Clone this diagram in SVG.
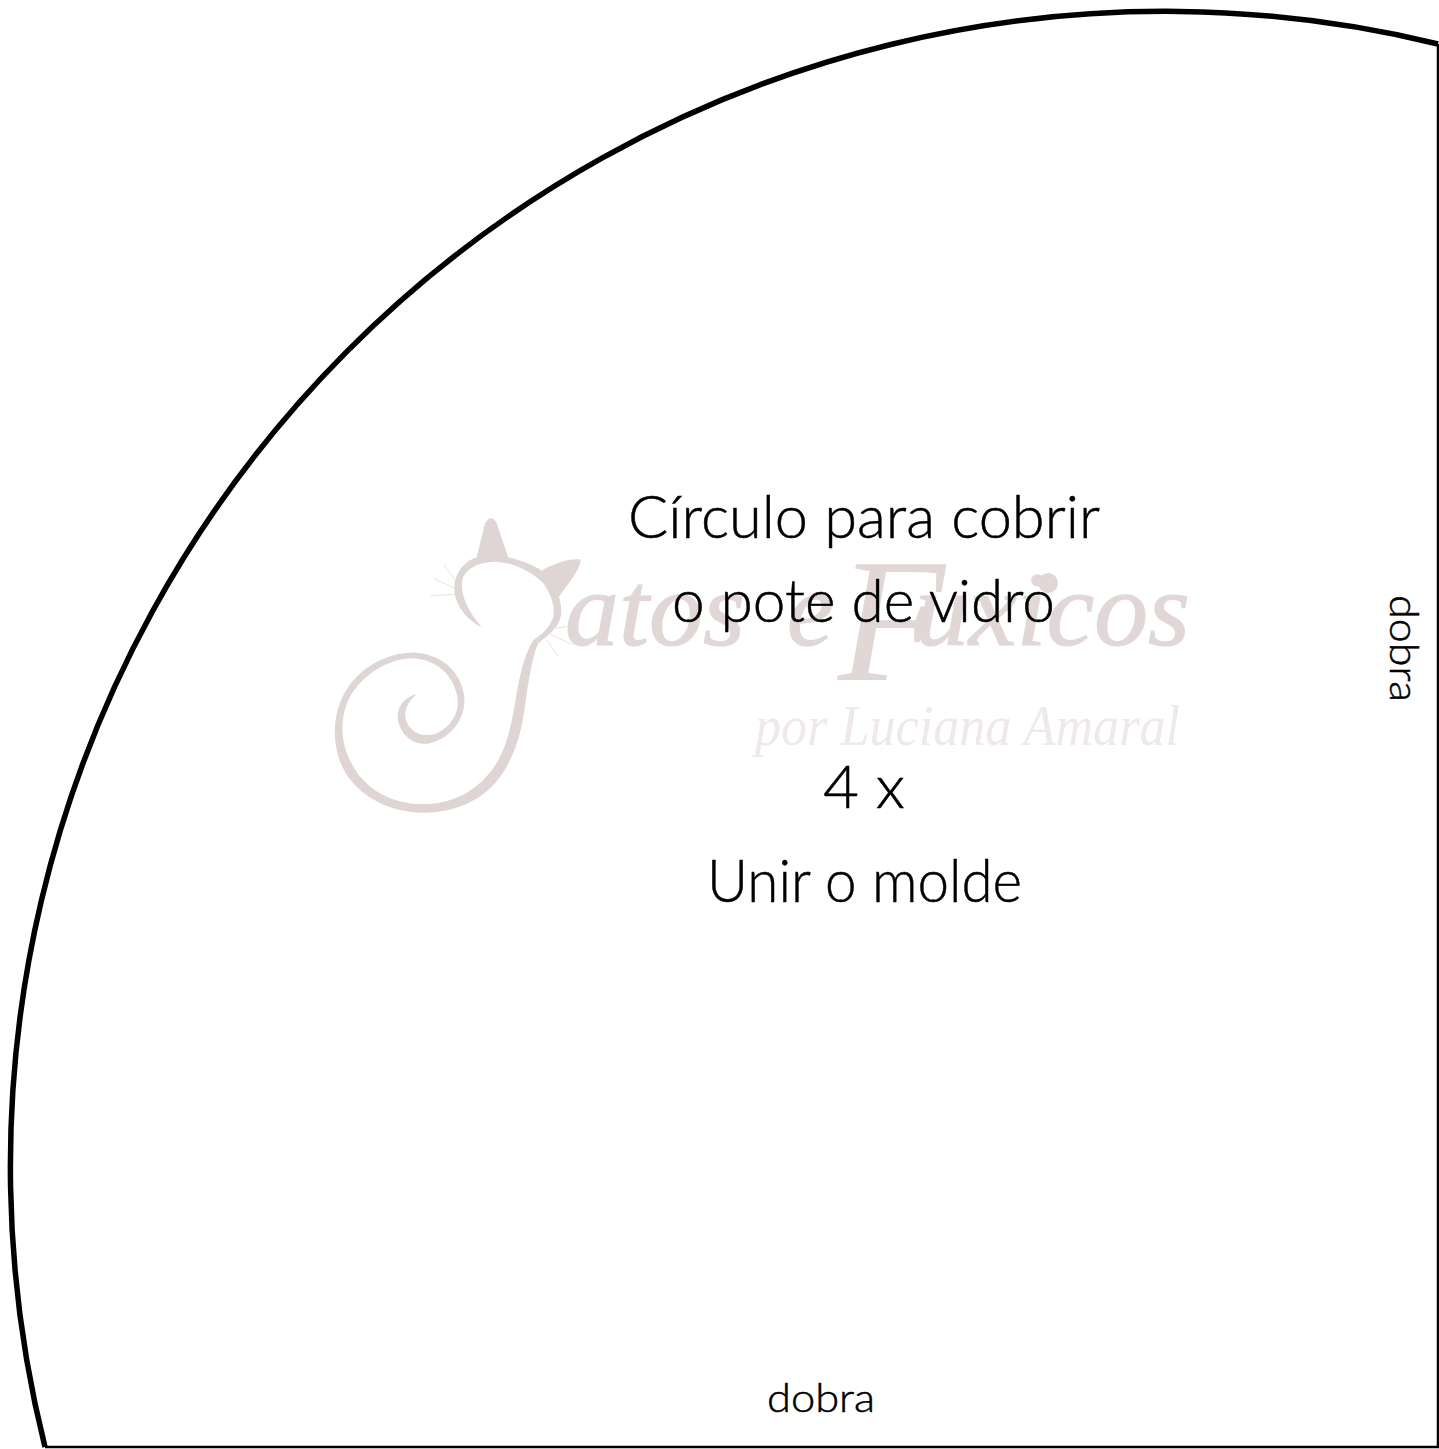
<svg xmlns="http://www.w3.org/2000/svg" width="1439" height="1449" viewBox="0 0 1439 1449">
<style>
.wm{font-family:"Liberation Serif",serif;font-style:italic;fill:#e2d7d7}
.big{font-size:105px;stroke:#e2d7d7;stroke-width:1.2px}
.lab{font-family:Lato,"Open Sans",sans-serif;font-weight:300;fill:#000;stroke:#000;stroke-width:.5px}
</style>
<rect width="1439" height="1449" fill="#fff"/>
<g id="watermark">
<g transform="translate(320 480) scale(.33333)">
<path fill="#e0d5d5" d="M485 442C440 420 400 370 403 320C405 280 430 245 470 232L495 130Q515 100 530 130L565 232C600 240 640 255 665 272C700 250 750 235 780 238Q785 245 775 265C760 295 735 325 717 350C725 380 728 405 715 430C705 450 680 470 655 490C640 520 630 580 620 640C610 720 600 790 560 860C510 950 420 998 310 998C190 998 85 930 55 830C30 740 50 650 110 590C160 540 230 515 290 518C370 525 425 580 433 650C438 710 400 770 330 790C280 800 235 760 233 710C232 680 255 650 290 642C265 665 250 690 258 720C270 760 310 772 345 762C390 745 420 700 412 650C400 585 350 540 280 535C200 535 120 590 85 660C55 730 65 800 100 860C150 945 240 975 320 972C420 970 500 910 540 830C570 770 580 700 590 640C600 580 615 520 640 480C670 460 690 440 700 410C705 380 695 345 670 310C640 280 590 250 530 245C490 245 450 255 430 290C420 320 425 370 485 442Z"/>
<path fill="none" stroke="#eae2e2" stroke-width="3" d="M405 300L372 255M405 325L340 295M405 343L330 347M680 480L715 530M685 460L760 495M700 445L740 440"/>
</g>
<text class="wm big" x="565" y="645" textLength="180" lengthAdjust="spacingAndGlyphs">atos</text>
<text class="wm big" x="787" y="645">e</text>
<text class="wm" x="838" y="680" font-size="175">F</text>
<text class="wm big" x="915" y="645" textLength="275" lengthAdjust="spacingAndGlyphs">uxicos</text>
<circle cx="1048" cy="583" r="10" fill="#e2d7d7"/>
<text class="wm" x="755" y="745" font-size="58" textLength="425" lengthAdjust="spacingAndGlyphs" style="fill:#efe9e9">por Luciana Amaral</text>
</g>
<g id="outline" fill="none" stroke="#000">
<path stroke-width="5.5" d="M1438 44A1155 1155 0 0 0 45 1447"/>
<path stroke-width="2.5" d="M45 1447H1438V44"/>
</g>
<g id="labels">
<text class="lab" x="628" y="538" font-size="60" textLength="472" lengthAdjust="spacingAndGlyphs">Círculo para cobrir</text>
<text class="lab" x="672" y="622" font-size="60" textLength="383" lengthAdjust="spacingAndGlyphs">o pote de vidro</text>
<text class="lab" x="823" y="808" font-size="60" textLength="82" lengthAdjust="spacingAndGlyphs">4 x</text>
<text class="lab" x="707" y="902" font-size="60" textLength="315" lengthAdjust="spacingAndGlyphs">Unir o molde</text>
<text class="lab" x="767" y="1412" font-size="40" textLength="108" lengthAdjust="spacingAndGlyphs">dobra</text>
<text class="lab" transform="translate(1390 595) rotate(90)" font-size="40" textLength="107" lengthAdjust="spacingAndGlyphs">dobra</text>
</g>
</svg>
